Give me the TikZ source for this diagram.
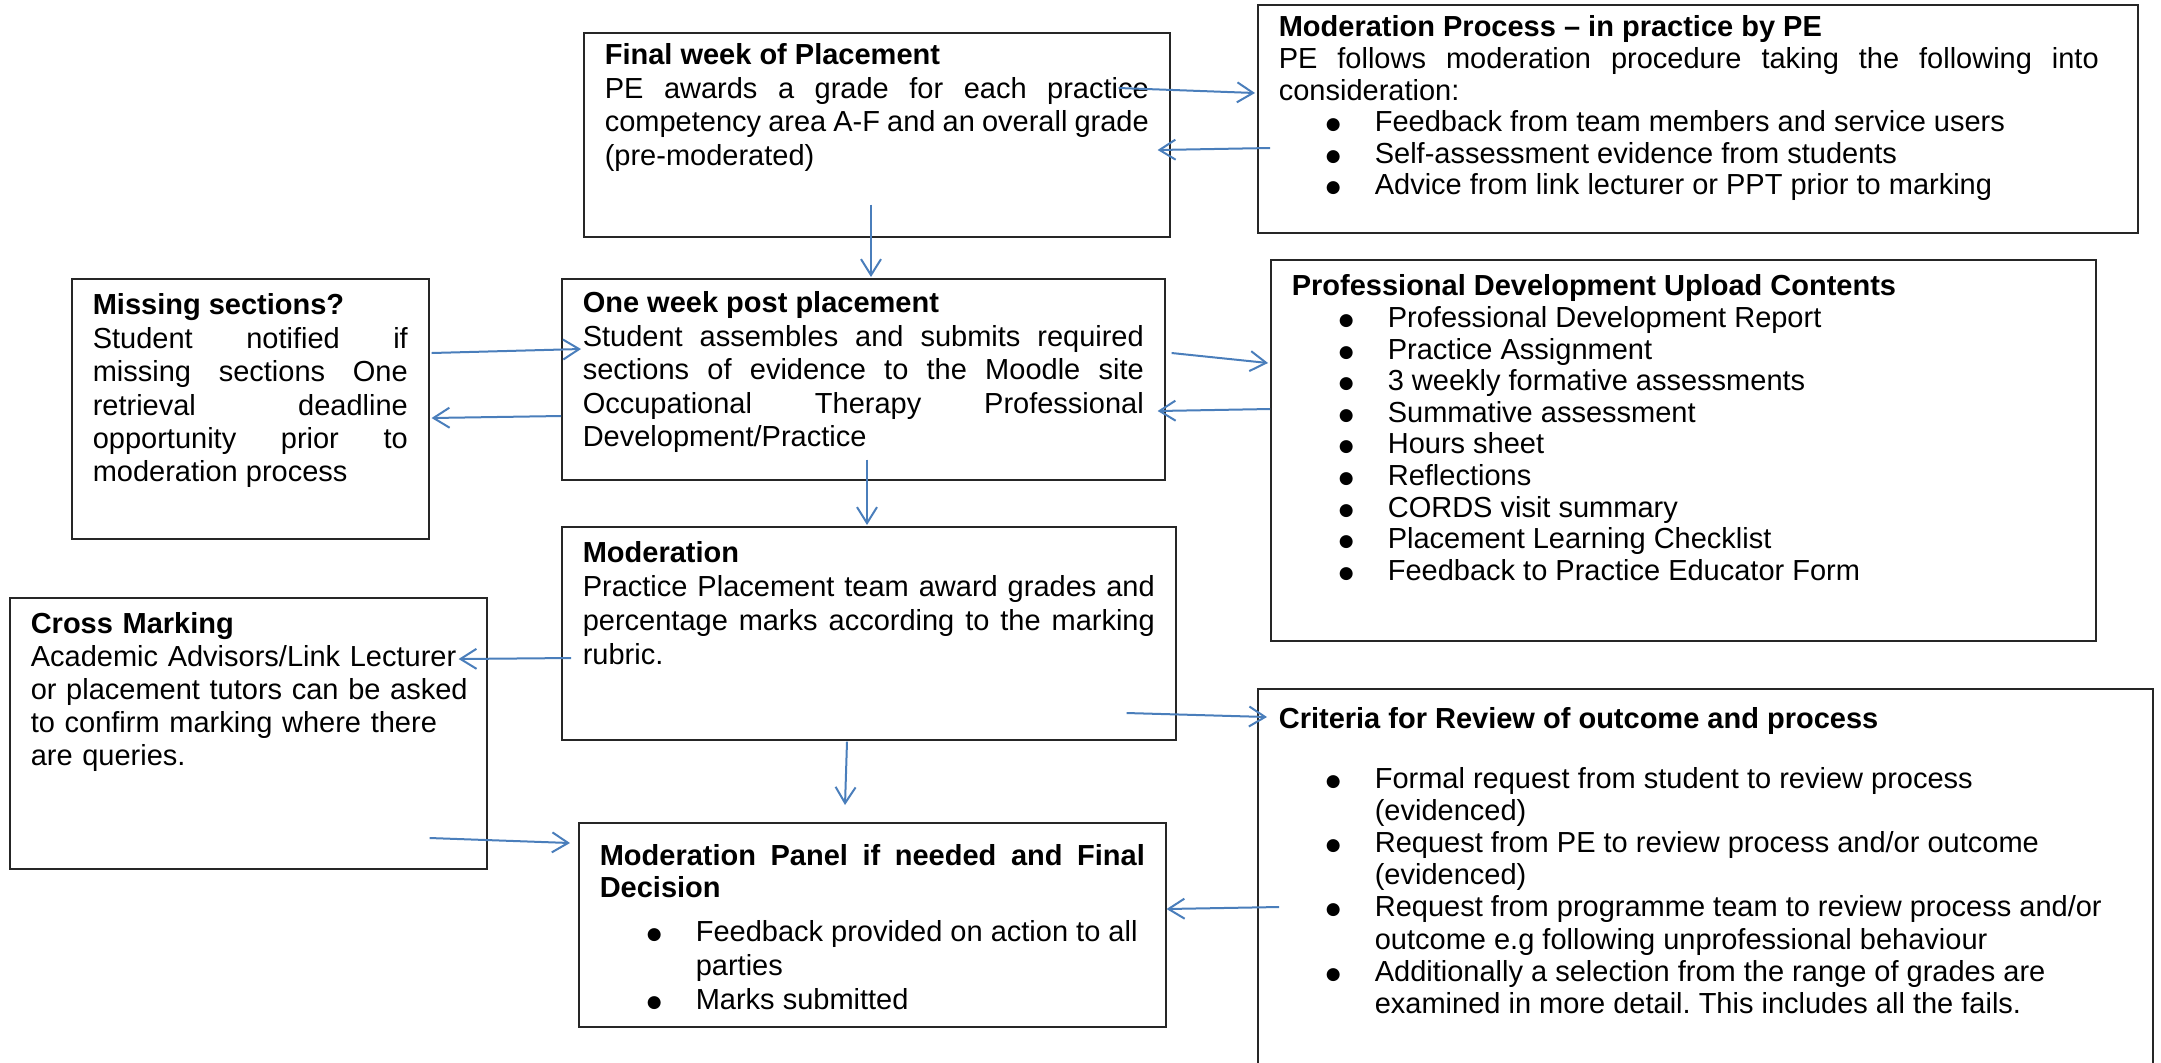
\documentclass[tikz,border=0pt]{standalone}
\usepackage{fontspec}
\setmainfont{Liberation Sans}
\newfontfamily\dotfont{DejaVu Sans}
\usetikzlibrary{positioning,calc,arrows.meta}
\definecolor{linkblue}{RGB}{74,126,187}
\tolerance=10000
\hyphenpenalty=10000
\exhyphenpenalty=10000
\frenchspacing
\newcommand{\bitem}[1]{\par\hangindent=48pt\hangafter=1\noindent\makebox[48pt][l]{\hspace{23.5pt}\raisebox{1pt}{\dotfont\fontsize{8.5pt}{8.5pt}\selectfont ●}}#1\par}

\begin{document}
\begin{tikzpicture}[x=0.5pt, y=-0.5pt,
  stage/.style={draw=black!85, line width=0.8pt, anchor=north west, inner xsep=10.5pt, inner ysep=0pt, align=justify, text height=18pt, font=\fontsize{14.5pt}{16.7pt}\selectfont},
  tightstage/.style={stage, font=\fontsize{14.5pt}{15.8pt}\selectfont},
  link/.style={draw=linkblue, line width=1pt, -{Straight Barb[length=8pt,width=10pt]}}]
\useasboundingbox (0,0) rectangle (2161,1062);
\clip (0,0) rectangle (2161,1062);

\node (fin) [stage, text height=16pt, text width=272pt, text depth=86pt] at (583,32) {\textbf{Final week of Placement}\\ PE awards a grade for each practice\linebreak competency area A-F and an overall grade\linebreak (pre-moderated)};
\node (modp) [tightstage, text height=16pt, text width=419pt, text depth=98pt] at (1257,4) {\rightskip=9pt \textbf{Moderation Process -- in practice by PE}\\ PE follows moderation procedure taking the following into\linebreak consideration:
  \bitem{Feedback from team members and service users}
  \bitem{Self-assessment evidence from students}
  \bitem{Advice from link lecturer or PPT prior to marking}};
\node (miss) [stage, text width=157.5pt, text depth=112pt] at (71,278) {\textbf{Missing sections?}\\ Student notified if\linebreak missing sections One\linebreak retrieval deadline\linebreak opportunity prior to\linebreak moderation process};
\node (one) [stage, text height=17pt, text width=280.5pt, text depth=83.5pt] at (561,278) {\textbf{One week post placement}\\ Student assembles and submits required\linebreak sections of evidence to the Moodle site\linebreak Occupational Therapy Professional\linebreak Development/Practice};
\node (pd) [tightstage, text width=391.5pt, text depth=172.5pt] at (1270,259) {\textbf{Professional Development Upload Contents}
  \bitem{Professional Development Report}
  \bitem{Practice Assignment}
  \bitem{3 weekly formative assessments}
  \bitem{Summative assessment}
  \bitem{Hours sheet}
  \bitem{Reflections}
  \bitem{CORDS visit summary}
  \bitem{Placement Learning Checklist}
  \bitem{Feedback to Practice Educator Form}};
\node (mod) [stage, font=\fontsize{14.5pt}{17pt}\selectfont, text width=286pt, text depth=88.5pt] at (561,526) {\textbf{Moderation}\\ Practice Placement team award grades and\linebreak percentage marks according to the marking\linebreak rubric.};
\node (cross) [stage, align=left, font=\fontsize{14.5pt}{16.5pt}\selectfont, text width=217.5pt, text depth=117.5pt] at (9,597) {\textbf{Cross Marking}\\ \mbox{Academic Advisors/Link Lecturer}\\ \mbox{or placement tutors can be asked}\\ \mbox{to confirm marking where there}\\ are queries.};
\node (panel) [stage, font=\fontsize{14.5pt}{16pt}\selectfont, text height=21.5pt, text width=272.5pt, text depth=80.5pt] at (578,822) {\textbf{Moderation Panel if needed and Final\linebreak Decision}\par\vspace{5pt}\fontsize{14.5pt}{16.9pt}\selectfont
  \bitem{Feedback provided on action to all\\ parties}
  \bitem{Marks submitted}};
\node (crit) [tightstage, font=\fontsize{14.5pt}{16.1pt}\selectfont, text height=20pt, text width=426.5pt, text depth=180pt] at (1257,688) {\textbf{Criteria for Review of outcome and process}\par\vspace{13.5pt}
  \bitem{Formal request from student to review process\\ (evidenced)}
  \bitem{Request from PE to review process and/or outcome\\ (evidenced)}
  \bitem{Request from programme team to review process and/or\\ outcome e.g following unprofessional behaviour}
  \bitem{Additionally a selection from the range of grades are\\ examined in more detail. This includes all the fails.}};

% connectors
\draw[link] ($(fin.north east)+(-52,56)$) -- ($(modp.north west)+(-2,89)$);
\draw[link] ($(modp.north west)+(13,144)$) -- ($(fin.north east)+(-13,118)$);
\draw[link] ($(fin.south west)+(288,-33)$) -- ($(one.north west)+(310,-1)$);
\draw[link] ($(miss.north east)+(2,75)$) -- ($(one.north west)+(20,71)$);
\draw[link] ($(one.north west)+(0,138)$) -- ($(miss.north east)+(2,140)$);
\draw[link] ($(one.north east)+(6,75)$) -- ($(pd.north west)+(-2,104)$);
\draw[link] ($(pd.north west)+(0,150)$) -- ($(one.north east)+(-8,133)$);
\draw[link] ($(one.south west)+(306,-21)$) -- ($(mod.north west)+(306,-1)$);
\draw[link] ($(mod.north west)+(10,132)$) -- ($(cross.north east)+(-29,62)$);
\draw[link] ($(mod.north east)+(-50,187)$) -- ($(crit.north west)+(10,29)$);
\draw[link] ($(mod.south west)+(286,1)$) -- ($(panel.north west)+(267,-17)$);
\draw[link] ($(cross.north east)+(-58,241)$) -- ($(panel.north west)+(-8,21)$);
\draw[link] ($(crit.north west)+(22,219)$) -- ($(panel.north east)+(0,87)$);
\end{tikzpicture}
\end{document}
